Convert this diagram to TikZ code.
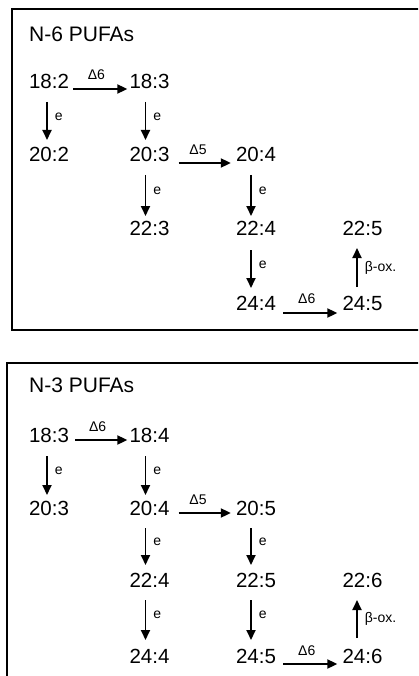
\documentclass[tikz,border=0pt]{standalone}
\usepackage{fontspec}
\setmainfont{Liberation Sans}
\usetikzlibrary{arrows.meta}
\begin{document}
\begin{tikzpicture}[x=1pt,y=-1pt,
  num/.style={anchor=base,inner sep=0pt,font=\fontsize{20.5}{24}\selectfont},
  ttl/.style={anchor=base west,inner sep=0pt,font=\fontsize{21}{25}\selectfont},
  arr/.style={line width=1.8pt,-{Triangle[length=10pt,width=9pt]}},
  lbl/.style={inner sep=0pt,font=\fontsize{14}{16}\selectfont},
  frame/.style={line width=1.6pt}]
\useasboundingbox (0,0) rectangle (418,676);
\clip (0,0) rectangle (418,676);
% ---------- N-6 ----------
\draw[frame] (12,9) rectangle (440,330);
\node[ttl] (t6) at (29,42) {N-6 PUFAs};
\node[num] (a182) at (49,89) {18:2};
\node[num] (a183) at (149.5,89) {18:3};
\node[num] (a202) at (49,162) {20:2};
\node[num] (a203) at (149.5,162) {20:3};
\node[num] (a204) at (256,162) {20:4};
\node[num] (a223) at (149.5,235) {22:3};
\node[num] (a224) at (256,235) {22:4};
\node[num] (a225) at (362.5,235) {22:5};
\node[num] (a244) at (256,310) {24:4};
\node[num] (a245) at (362.5,310) {24:5};
\draw[arr] ([xshift=4pt,yshift=0pt]a182.base east) -- ([xshift=-2pt,yshift=0pt]a183.base west)
  node[lbl,anchor=base,pos=0.43,yshift=9pt] {Δ6};
\draw[arr] ([xshift=9pt,yshift=-1pt]a203.base east) -- ([xshift=-5pt,yshift=-1pt]a204.base west)
  node[lbl,anchor=base,pos=0.37,yshift=8pt] {Δ5};
\draw[arr] ([xshift=7pt,yshift=-3pt]a244.base east) -- ([xshift=-5pt,yshift=-3pt]a245.base west)
  node[lbl,anchor=base,pos=0.435,yshift=10pt] {Δ6};
\draw[arr] ([xshift=-2pt,yshift=-13pt]a182.base) -- ([xshift=-2pt,yshift=22pt]a202.base)
  node[lbl,anchor=west,pos=0.38,xshift=7pt] {e};
\draw[arr] ([xshift=-4pt,yshift=-13pt]a183.base) -- ([xshift=-4pt,yshift=22pt]a203.base)
  node[lbl,anchor=west,pos=0.38,xshift=7pt] {e};
\draw[arr] ([xshift=-4pt,yshift=-13pt]a203.base) -- ([xshift=-4pt,yshift=19pt]a223.base)
  node[lbl,anchor=west,pos=0.38,xshift=7pt] {e};
\draw[arr] ([xshift=-5pt,yshift=-13pt]a204.base) -- ([xshift=-5pt,yshift=19pt]a224.base)
  node[lbl,anchor=west,pos=0.38,xshift=7pt] {e};
\draw[arr] ([xshift=-5pt,yshift=-15pt]a224.base) -- ([xshift=-5pt,yshift=22pt]a244.base)
  node[lbl,anchor=west,pos=0.38,xshift=7pt] {e};
\draw[arr] ([xshift=-5.5pt,yshift=23pt]a245.base) -- ([xshift=-5.5pt,yshift=-13pt]a225.base)
  node[lbl,anchor=west,pos=0.5,xshift=7pt] {β-ox.};
% ---------- N-3 ----------
\draw[frame] (7,363) rectangle (440,700);
\node[ttl] (t3) at (29,392) {N-3 PUFAs};
\node[num] (b183) at (49,442) {18:3};
\node[num] (b184) at (149.5,442) {18:4};
\node[num] (b203) at (49,515) {20:3};
\node[num] (b204) at (149.5,515) {20:4};
\node[num] (b205) at (256,515) {20:5};
\node[num] (b224) at (149.5,587) {22:4};
\node[num] (b225) at (256,587) {22:5};
\node[num] (b226) at (362.5,587) {22:6};
\node[num] (b244) at (149.5,663) {24:4};
\node[num] (b245) at (256,663) {24:5};
\node[num] (b246) at (362.5,663) {24:6};
\draw[arr] ([xshift=6pt,yshift=2pt]b183.base east) -- ([xshift=-2pt,yshift=2pt]b184.base west)
  node[lbl,anchor=base,pos=0.43,yshift=9pt] {Δ6};
\draw[arr] ([xshift=9pt,yshift=2pt]b204.base east) -- ([xshift=-5pt,yshift=2pt]b205.base west)
  node[lbl,anchor=base,pos=0.37,yshift=9pt] {Δ5};
\draw[arr] ([xshift=7pt,yshift=-1pt]b245.base east) -- ([xshift=-5pt,yshift=-1pt]b246.base west)
  node[lbl,anchor=base,pos=0.435,yshift=9pt] {Δ6};
\draw[arr] ([xshift=-2pt,yshift=-14pt]b183.base) -- ([xshift=-2pt,yshift=20pt]b203.base)
  node[lbl,anchor=west,pos=0.38,xshift=7pt] {e};
\draw[arr] ([xshift=-4pt,yshift=-14pt]b184.base) -- ([xshift=-4pt,yshift=20pt]b204.base)
  node[lbl,anchor=west,pos=0.38,xshift=7pt] {e};
\draw[arr] ([xshift=-4pt,yshift=-13pt]b204.base) -- ([xshift=-4pt,yshift=22pt]b224.base)
  node[lbl,anchor=west,pos=0.38,xshift=7pt] {e};
\draw[arr] ([xshift=-5pt,yshift=-13pt]b205.base) -- ([xshift=-5pt,yshift=22pt]b225.base)
  node[lbl,anchor=west,pos=0.38,xshift=7pt] {e};
\draw[arr] ([xshift=-4pt,yshift=-13pt]b224.base) -- ([xshift=-4pt,yshift=23pt]b244.base)
  node[lbl,anchor=west,pos=0.38,xshift=7pt] {e};
\draw[arr] ([xshift=-5pt,yshift=-13pt]b225.base) -- ([xshift=-5pt,yshift=23pt]b245.base)
  node[lbl,anchor=west,pos=0.38,xshift=7pt] {e};
\draw[arr] ([xshift=-5.5pt,yshift=25pt]b246.base) -- ([xshift=-5.5pt,yshift=-13pt]b226.base)
  node[lbl,anchor=west,pos=0.5,xshift=7pt] {β-ox.};
\end{tikzpicture}
\end{document}
